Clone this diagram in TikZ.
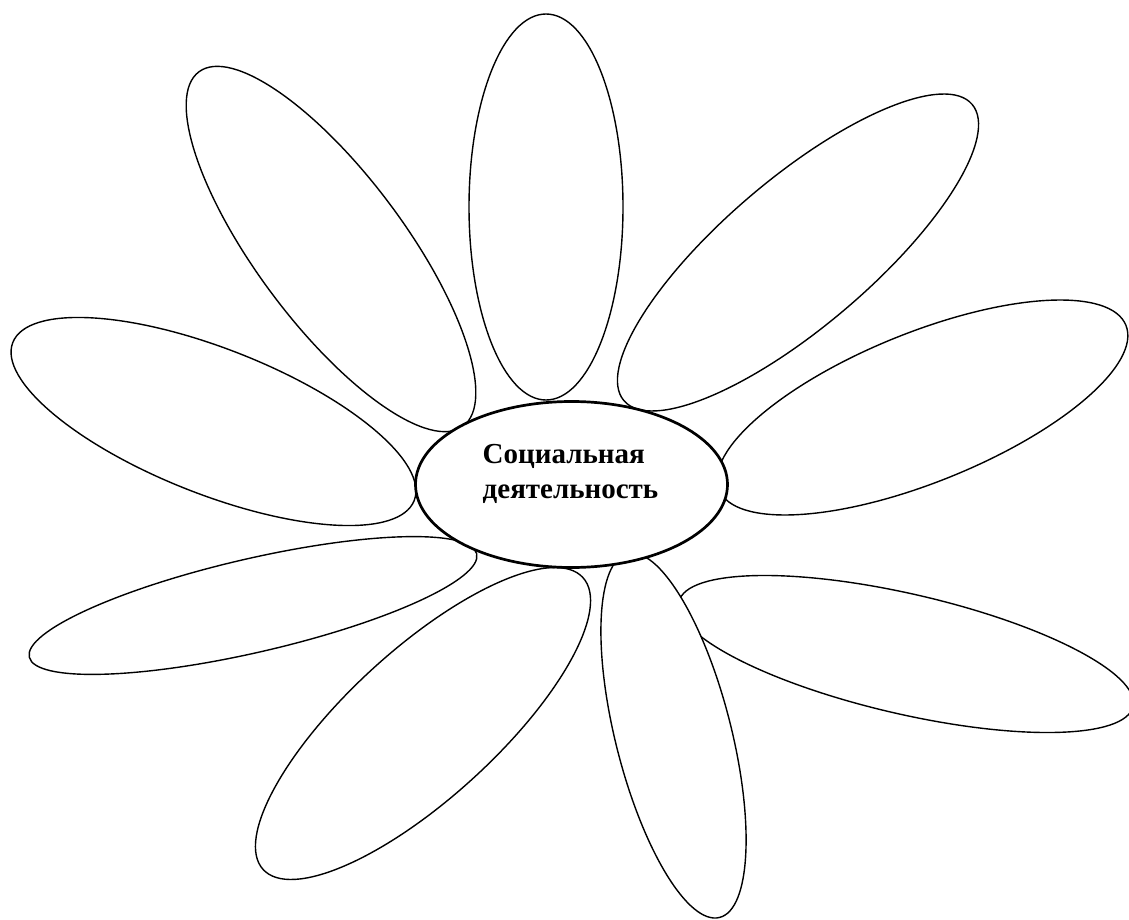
\documentclass[tikz,border=0pt]{standalone}
\usepackage{fontspec}
\setmainfont{Liberation Serif}
\tikzset{
  petal/.style={draw=black, fill=white, line width=1.4pt},
  core/.style={draw=black, fill=white, line width=2.7pt, ellipse,
    minimum width=312pt, minimum height=166pt, inner sep=0pt},
}
\usetikzlibrary{shapes.geometric}
\begin{document}
\begin{tikzpicture}[x=1pt,y=1pt]
\useasboundingbox (0,0) rectangle (1129,-920);
\clip (0,0) rectangle (1129,-920);
\fill[white] (0,0) rectangle (1129,-920);
\draw[petal] (546,-207) ellipse (77 and 193);
\draw[petal, rotate around={-53.3:(331,-249)}] (331,-249) ellipse (221 and 74);
\draw[petal, rotate around={40.4:(798,-252.5)}] (798,-252.5) ellipse (228.6 and 73.8);
\draw[petal, rotate around={-21.5:(213.5,-421.5)}] (213.5,-421.5) ellipse (215.7 and 72.7);
\draw[petal, rotate around={22:(922.5,-407.5)}] (922.5,-407.5) ellipse (219.4 and 74.7);
\draw[petal, rotate around={13:(253,-605.5)}] (253,-605.5) ellipse (229.6 and 46.8);
\draw[petal, rotate around={42.4:(423,-723.5)}] (423,-723.5) ellipse (216.5 and 74.3);
\draw[petal, rotate around={-13:(906,-654)}] (906,-654) ellipse (233 and 60);
\draw[petal, rotate around={104.2:(673.5,-735.5)}] (673.5,-735.5) ellipse (187.7 and 57.9);
\node[core] (hub) at (571.5,-484.5) {};
\node[align=left, inner sep=0pt, font=\bfseries\fontsize{29}{35}\selectfont]
  (title) at ([xshift=-1pt,yshift=11pt]hub.center) {Социальная\\деятельность};
\end{tikzpicture}
\end{document}
